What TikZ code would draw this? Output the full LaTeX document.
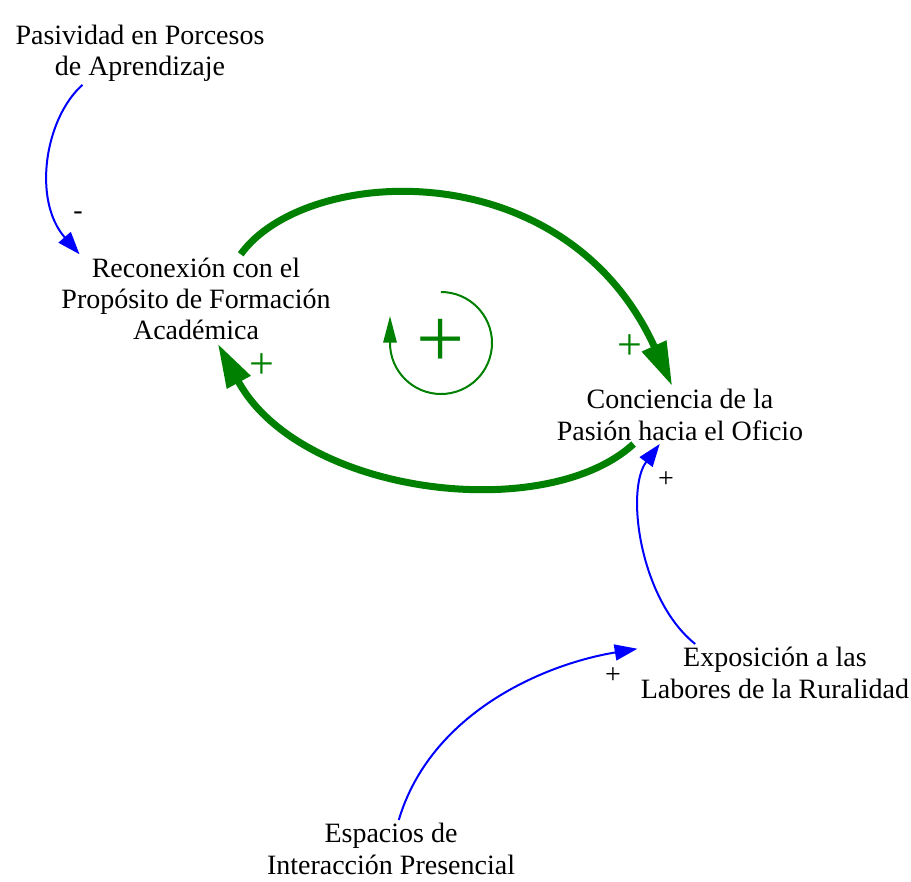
\documentclass[tikz,border=0pt]{standalone}
\usepackage{fontspec}
\setmainfont{Liberation Serif}
\usetikzlibrary{arrows.meta}
\definecolor{loopgreen}{RGB}{0,128,0}
\tikzset{every picture/.style={line width=0.75pt}}
\tikzset{
  varname/.style={align=center,inner sep=2.25pt,font=\fontsize{21}{23.5}\selectfont},
  polarity/.style={inner sep=0.75pt,font=\fontsize{21}{21}\selectfont},
  bluelink/.style={draw=blue,line width=1.5pt,-{Triangle[length=17pt,width=12pt]}},
  greenlink/.style={draw=loopgreen,line width=5.25pt,-{Triangle[length=33pt,width=19pt]}},
}
\begin{document}
\begin{tikzpicture}[x=0.75pt,y=0.75pt,yscale=-1,xscale=1]
        \useasboundingbox (0,0) rectangle (911,882);

        % Text Node
        \draw (140,53) node (pasiv) [varname] {Pasividad en Porcesos\\de Aprendizaje};
        % Text Node
        \draw (196,299) node (recon) [varname] {Reconexión con el\\Propósito de Formación\\Académica};
        % Text Node
        \draw (680,415) node (concien) [varname] {Conciencia de la\\Pasión hacia el Oficio};
        % Text Node
        \draw (775,673) node (expos) [varname] {Exposición a las\\Labores de la Ruralidad};
        % Text Node
        \draw (391,849) node (espac) [varname] {Espacios de\\Interacción Presencial};

        %Curve Lines
        \draw [greenlink] (recon.45) .. controls (305,165) and (565,150) .. (concien.105) ;
        %Curve Lines
        \draw [greenlink] (concien.212) .. controls (545,525) and (300,495) .. (recon.296) ;
        %Curve Lines
        \draw [bluelink] (pasiv.209) .. controls (45,118) and (32,200) .. (recon.159) ;
        %Curve Lines
        \draw [bluelink] (expos.160) .. controls (640,600) and (625,490) .. (concien.235) ;
        %Curve Lines
        \draw [bluelink] (espac.75) .. controls (430,715) and (540,665) .. (expos.170) ;

        %Shape: Arc (loop)
        \draw [loopgreen, line width=1.5pt, -{Triangle[length=20pt,width=10pt]}] (441,292) arc [start angle=-90, end angle=180, radius=51] -- ++(0,-27) ;
        % Text Node
        \draw (441,343) node (loopsign) [inner sep=0pt, text=loopgreen, font=\fontsize{64}{64}\selectfont] {+};

        % Text Node
        \draw (78,216) node (minpas) [polarity] {-};
        % Text Node
        \draw (630,347) node (pluscon) [polarity, text=loopgreen, font=\fontsize{33}{33}\selectfont] {+};
        % Text Node
        \draw (262,366) node (plusrec) [polarity, text=loopgreen, font=\fontsize{33}{33}\selectfont] {+};
        % Text Node
        \draw (666,480) node (plusexp) [polarity] {+};
        % Text Node
        \draw (613,676) node (plusesp) [polarity] {+};
\end{tikzpicture}
\end{document}
